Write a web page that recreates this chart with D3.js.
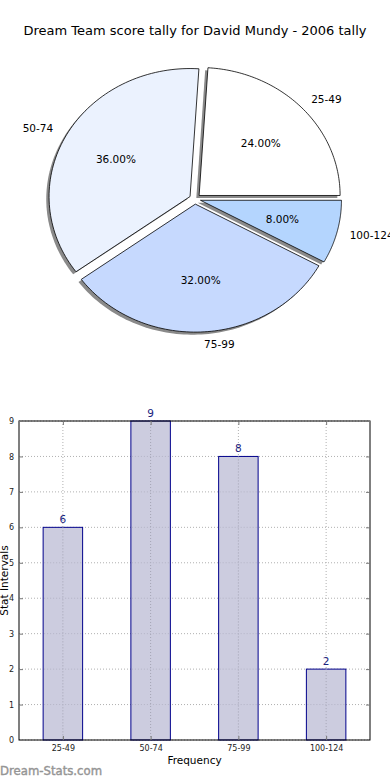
<!DOCTYPE html>
<html>
<head>
<meta charset="utf-8">
<script src="https://cdn.jsdelivr.net/npm/d3@7"></script>
<style>
  body { margin: 0; background: #fff; }
  svg { display: block; font-family: "DejaVu Sans", sans-serif; }
</style>
</head>
<body>
<svg id="chart" width="390" height="780"></svg>
<script>
// data
var categories = ['25-49', '50-74', '75-99', '100-124'];
var counts = [6, 9, 8, 2];
var sliceColors = ['#ffffff', '#ebf2fe', '#c6d9fe', '#b4d5fe'];
var yTicks = [0, 1, 2, 3, 4, 5, 6, 7, 8, 9];
var chartTitle = 'Dream Team score tally for David Mundy - 2006 tally';

var svg = d3.select('#chart');

svg.append('text')
    .attr('x', 195).attr('y', 35)
    .attr('text-anchor', 'middle')
    .style('font-size', '13px')
    .text(chartTitle);

// ---- pie (matplotlib style, elliptical, counter-clockwise from east) ----
var cx = 195, cy = 199, rx = 141, ry = 128, explode = 0.04;
var total = d3.sum(counts);

var pie = d3.pie().sort(null)
    .startAngle(0).endAngle(2 * Math.PI)
    .value(function(d) { return d; });
var arcs = pie(counts);

// angle in math convention (radians, ccw from east) -> screen point on ellipse
function pt(a, f, ox, oy) {
    return [ox + f * rx * Math.cos(a), oy - f * ry * Math.sin(a)];
}
function slicePath(d, ox, oy) {
    var p = d3.path();
    p.moveTo(ox, oy);
    var n = 80;
    for (var i = 0; i <= n; i++) {
        var a = d.startAngle + (d.endAngle - d.startAngle) * i / n;
        var q = pt(a, 1, ox, oy);
        p.lineTo(q[0], q[1]);
    }
    p.closePath();
    return p.toString();
}
arcs.forEach(function(d) {
    var mid = (d.startAngle + d.endAngle) / 2;
    d.mid = mid;
    d.ox = cx + explode * rx * Math.cos(mid);
    d.oy = cy - explode * ry * Math.sin(mid);
});

var pieG = svg.append('g');
// shadows
pieG.selectAll('path.shadow').data(arcs).enter().append('path')
    .attr('class', 'shadow')
    .attr('d', function(d) { return slicePath(d, d.ox - 2.8, d.oy + 2.6); })
    .attr('fill', '#8a8a8a');
pieG.selectAll('path.slice').data(arcs).enter().append('path')
    .attr('class', 'slice')
    .attr('d', function(d) { return slicePath(d, d.ox, d.oy); })
    .attr('fill', function(d, i) { return sliceColors[i]; })
    .attr('stroke', '#000').attr('stroke-width', 0.8);

pieG.selectAll('text.pct').data(arcs).enter().append('text')
    .attr('class', 'pct')
    .attr('x', function(d) { return pt(d.mid, 0.6, d.ox, d.oy)[0]; })
    .attr('y', function(d) { return pt(d.mid, 0.6, d.ox, d.oy)[1]; })
    .attr('dy', '0.35em')
    .attr('text-anchor', 'middle')
    .style('font-size', '10.5px')
    .text(function(d) { return (d.value / total * 100).toFixed(2) + '%'; });

pieG.selectAll('text.lbl').data(arcs).enter().append('text')
    .attr('class', 'lbl')
    .attr('x', function(d) { return pt(d.mid, 1.1, d.ox, d.oy)[0] - 1; })
    .attr('y', function(d) { return pt(d.mid, 1.1, d.ox, d.oy)[1]; })
    .attr('dy', '0.35em')
    .attr('text-anchor', function(d) { return Math.cos(d.mid) > 0 ? 'start' : 'end'; })
    .style('font-size', '10.5px')
    .text(function(d, i) { return categories[i]; });

// ---- bar chart ----
var axL = 19, axR = 370, axT = 421, axB = 740;
var x = d3.scaleLinear().domain([-0.5, categories.length - 0.5]).range([axL, axR]);
var y = d3.scaleLinear().domain([0, 9]).range([axB, axT]);
var barW = 0.45;

var barG = svg.append('g');

// grid
barG.selectAll('line.hgrid').data(yTicks).enter().append('line')
    .attr('x1', axL).attr('x2', axR)
    .attr('y1', function(d) { return y(d); }).attr('y2', function(d) { return y(d); })
    .attr('stroke', '#b0b0b0').attr('stroke-width', 1)
    .attr('stroke-dasharray', '1,2');
barG.selectAll('line.vgrid').data(categories).enter().append('line')
    .attr('x1', function(d, i) { return x(i); }).attr('x2', function(d, i) { return x(i); })
    .attr('y1', axT).attr('y2', axB)
    .attr('stroke', '#b0b0b0').attr('stroke-width', 1)
    .attr('stroke-dasharray', '1,2');

barG.selectAll('rect.bar').data(counts).enter().append('rect')
    .attr('x', function(d, i) { return x(i - barW / 2); })
    .attr('width', x(barW) - x(0))
    .attr('y', function(d) { return y(d); })
    .attr('height', function(d) { return axB - y(d); })
    .attr('fill', '#ccccdf')
    .attr('stroke', '#00008b').attr('stroke-width', 1);

// grid shows through the bars in the reference
barG.selectAll('line.vgrid2').data(categories).enter().append('line')
    .attr('x1', function(d, i) { return x(i); }).attr('x2', function(d, i) { return x(i); })
    .attr('y1', function(d, i) { return y(counts[i]); }).attr('y2', axB)
    .attr('stroke', '#a4a4b4').attr('stroke-width', 1)
    .attr('stroke-dasharray', '1,2');
barG.selectAll('g.hgrid2').data(counts).enter().append('g')
    .each(function(c, i) {
        d3.select(this).selectAll('line').data(yTicks.filter(function(t) { return t > 0 && t < c; }))
            .enter().append('line')
            .attr('x1', x(i - barW / 2) + 1).attr('x2', x(i + barW / 2) - 1)
            .attr('y1', function(t) { return y(t); }).attr('y2', function(t) { return y(t); })
            .attr('stroke', '#b4b4c6').attr('stroke-width', 1)
            .attr('stroke-dasharray', '1,2');
    });

barG.selectAll('text.val').data(counts).enter().append('text')
    .attr('x', function(d, i) { return x(i); })
    .attr('y', function(d) { return y(d) - 4; })
    .attr('text-anchor', 'middle')
    .attr('fill', '#1a237e')
    .style('font-size', '10.5px')
    .text(function(d) { return d; });

// frame
barG.append('rect')
    .attr('x', axL).attr('y', axT)
    .attr('width', axR - axL).attr('height', axB - axT)
    .attr('fill', 'none').attr('stroke', '#000').attr('stroke-width', 1);

// axes via d3
var yAxis = d3.axisLeft(y).tickValues(yTicks).tickSize(-4).tickPadding(5);
var yAxisR = d3.axisRight(y).tickValues(yTicks).tickSize(-4).tickFormat('');
var xAxis = d3.axisBottom(x).tickValues(d3.range(categories.length))
    .tickSize(-4).tickPadding(5)
    .tickFormat(function(d) { return categories[d]; });
var xAxisT = d3.axisTop(x).tickValues(d3.range(categories.length)).tickSize(-4).tickFormat('');

function styleAxis(g) {
    g.select('.domain').remove();
    g.selectAll('.tick line').attr('stroke', '#777');
    g.selectAll('.tick text').attr('fill', '#222').style('font-size', '8px')
        .style('font-family', '"DejaVu Sans", sans-serif');
}
barG.append('g').attr('transform', 'translate(' + axL + ',0)').call(yAxis).call(styleAxis);
barG.append('g').attr('transform', 'translate(' + axR + ',0)').call(yAxisR).call(styleAxis);
barG.append('g').attr('transform', 'translate(0,' + axB + ')').call(xAxis).call(styleAxis);
barG.append('g').attr('transform', 'translate(0,' + axT + ')').call(xAxisT).call(styleAxis);

svg.append('text')
    .attr('x', (axL + axR) / 2).attr('y', 764)
    .attr('text-anchor', 'middle')
    .style('font-size', '10.5px')
    .text('Frequency');

svg.append('text')
    .attr('transform', 'translate(8,' + ((axT + axB) / 2) + ') rotate(-90)')
    .attr('text-anchor', 'middle')
    .style('font-size', '10.5px')
    .text('Stat Intervals');

svg.append('text')
    .attr('x', 0).attr('y', 775)
    .attr('fill', '#959595')
    .attr('stroke', '#959595').attr('stroke-width', 0.4)
    .style('font-size', '11.7px')
    .text('Dream-Stats.com');
</script>
</body>
</html>
